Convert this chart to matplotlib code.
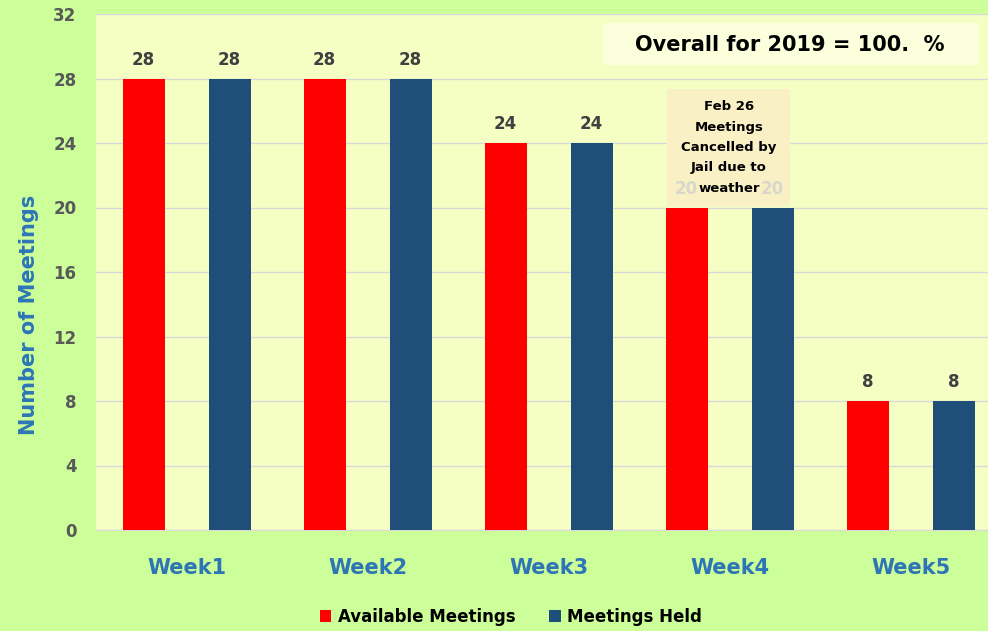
import matplotlib
matplotlib.use("Agg")
import matplotlib.pyplot as plt
import numpy as np
from matplotlib.patches import Rectangle

categories = ["Week1", "Week2", "Week3", "Week4", "Week5"]
available = [28, 28, 24, 20, 8]
held = [28, 28, 24, 20, 8]
yticks = [0, 4, 8, 12, 16, 20, 24, 28, 32]
note_lines = ["Feb 26", "Meetings", "Cancelled by", "Jail due to", "weather"]

W, H = 988, 631
fig = plt.figure(figsize=(W/100, H/100), dpi=100, facecolor="#CCFF99")
left, right, top, bottom = 96, 988, 14, 530
ax = fig.add_axes([left/W, 1-bottom/H, (right-left)/W, (bottom-top)/H])
ax.set_facecolor("#F5FFC4")

cat_w = 181.0
x = np.arange(len(categories))
bw = 42/cat_w
off = 43/cat_w
ax.bar(x - off, available, bw, color="#FF0000", label="Available Meetings", zorder=3)
ax.bar(x + off, held, bw, color="#1F4E79", label="Meetings Held", zorder=3)

ax.set_xlim(-0.5, -0.5 + (right-left)/cat_w)
ax.set_ylim(0, 32)
ax.set_yticks(yticks)
ax.set_yticklabels([str(t) for t in yticks], fontsize=12, fontweight="bold", color="#595959")
ax.yaxis.grid(True, color="#D9D9D9", lw=1, zorder=0)
ax.tick_params(axis="y", length=0, pad=14)
ax.set_xticks(x)
ax.set_xticklabels(categories, fontsize=15, fontweight="bold", color="#2E75B6")
ax.tick_params(axis="x", length=0, pad=20)
for s in ax.spines.values():
    s.set_visible(False)
ax.spines["bottom"].set_visible(True)
ax.spines["bottom"].set_color("#D9D9D9")

for i in range(len(categories)):
    if i == 3:
        c, z = "#D8D8C8", 7
    else:
        c, z = "#404040", 4
    ax.text(x[i]-off, available[i]+0.6, str(available[i]), ha="center", va="bottom",
            fontsize=12, fontweight="bold", color=c, zorder=z)
    ax.text(x[i]+off, held[i]+0.6, str(held[i]), ha="center", va="bottom",
            fontsize=12, fontweight="bold", color=c, zorder=z)

ax.set_ylabel("Number of Meetings", fontsize=15, fontweight="bold", color="#2E75B6")
ax.yaxis.set_label_coords((39-left)/(right-left), (bottom-315)/(bottom-top))

# Overall box
ax.add_patch(Rectangle((603/W, 1-65/H), (978-603)/W, (65-23)/H, transform=fig.transFigure,
                       facecolor="#FBFFDC", edgecolor="none", zorder=5, clip_on=False))
ax.text(790/W, 1-45/H, "Overall for 2019 = 100.  %", ha="center", va="center",
        fontsize=15, fontweight="bold", color="black", zorder=6, transform=fig.transFigure)

# Feb 26 box
ax.add_patch(Rectangle((667/W, 1-206/H), (790-667)/W, (206-89)/H, transform=fig.transFigure,
                       facecolor="#FAF0C6", edgecolor="none", zorder=5, clip_on=False))
line_y = [107, 128, 148, 168, 189]
for ln, yy in zip(note_lines, line_y):
    ax.text(729/W, 1-yy/H, ln, ha="center", va="center", fontsize=9.5, fontweight="bold",
            color="black", zorder=6, transform=fig.transFigure)

leg = fig.legend(loc="center", bbox_to_anchor=(511/W, 1-617/H), ncol=2, frameon=False,
                 prop={"weight": "bold", "size": 12}, handlelength=0.7, handleheight=0.7,
                 columnspacing=2.0, handletextpad=0.4)

fig.savefig("out.png", dpi=100, facecolor=fig.get_facecolor())
